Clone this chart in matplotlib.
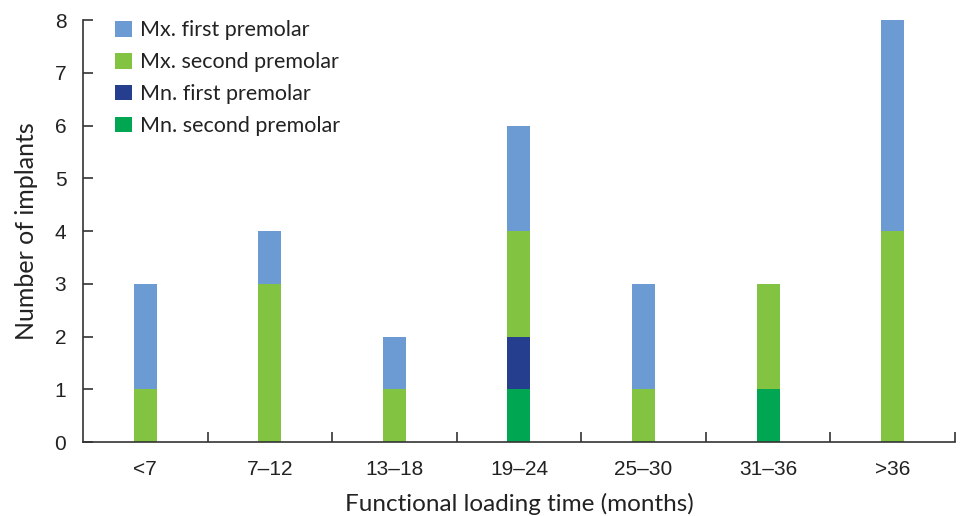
import numpy as np
import matplotlib.pyplot as plt

categories = ["<7", "7\u201312", "13\u201318", "19\u201324", "25\u201330", "31\u201336", ">36"]
mn_second = [0, 0, 0, 1, 0, 1, 0]
mn_first = [0, 0, 0, 1, 0, 0, 0]
mx_second = [1, 3, 1, 2, 1, 2, 4]
mx_first = [2, 1, 1, 2, 2, 0, 4]

series = [
    ("Mn. second premolar", mn_second, "#00a651"),
    ("Mn. first premolar", mn_first, "#253f8e"),
    ("Mx. second premolar", mx_second, "#82c341"),
    ("Mx. first premolar", mx_first, "#6b9bd2"),
]

label_font = ["Lato", "DejaVu Sans"]
tick_font = ["Liberation Sans", "DejaVu Sans"]

fig = plt.figure(figsize=(9.68, 5.16), dpi=100)
ax = fig.add_axes([0.0857, 0.1434, 0.9008, 0.8178])

x = np.arange(len(categories))
bottom = np.zeros(len(categories))
handles = []
for name, vals, color in series:
    vals = np.array(vals, dtype=float)
    b = ax.bar(x, vals, width=0.185, bottom=bottom, color=color, label=name)
    handles.append(b)
    bottom += vals

ax.set_xlim(-0.5, len(categories) - 0.5)
ax.set_ylim(0, 8)
ax.set_yticks(range(0, 9))
ax.set_yticklabels([str(i) for i in range(0, 9)], family=tick_font, fontsize=15, color="#222222")
ax.set_xticks(x)
ax.set_xticklabels(categories, family=tick_font, fontsize=15, color="#222222")
ax.tick_params(axis="x", length=0, pad=13)
ax.tick_params(axis="y", direction="in", length=7, width=1.2, color="#333333", pad=12)
ax.set_xticks(np.arange(0.5, len(categories), 1.0), minor=True)
ax.tick_params(axis="x", which="minor", direction="in", length=7, width=1.2, color="#333333")

for side in ["top", "right"]:
    ax.spines[side].set_visible(False)
for side in ["left", "bottom"]:
    ax.spines[side].set_color("#333333")
    ax.spines[side].set_linewidth(1.2)

ax.set_xlabel("Functional loading time (months)", family=label_font, fontsize=17.5, color="#222222", labelpad=10)
ax.set_ylabel("Number of implants", family=label_font, fontsize=18, color="#222222", labelpad=12)

leg = ax.legend(handles[::-1], [s[0] for s in series][::-1], loc="upper left",
                bbox_to_anchor=(0.015, 1.045), frameon=False, handlelength=0.75, handleheight=0.75,
                handletextpad=0.4, labelspacing=0.55, prop={"family": label_font, "size": 15.5})
for t in leg.get_texts():
    t.set_color("#222222")

fig.savefig("out.png", dpi=100)
